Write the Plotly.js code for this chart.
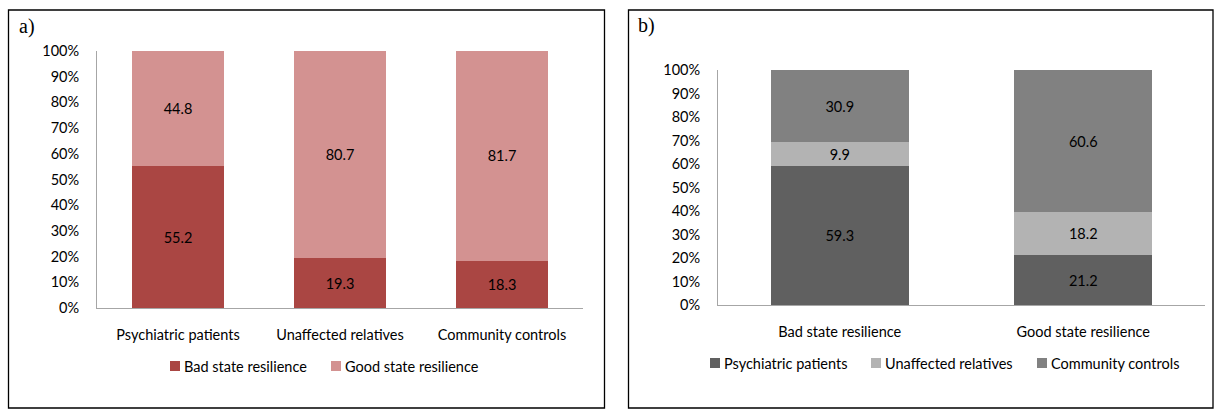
<!DOCTYPE html>
<html>
<head>
<meta charset="utf-8">
<script src="https://cdn.plot.ly/plotly-3.0.1.min.js"></script>
<style>html,body{margin:0;padding:0;background:#fff}#chart{width:1220px;height:410px}</style>
</head>
<body>
<div id="chart"></div>
<script>
// Panel a data
const groupsA = ["Psychiatric patients", "Unaffected relatives", "Community controls"];
const seriesA = ["Bad state resilience", "Good state resilience"];
const badA = [55.2, 19.3, 18.3];
const goodA = [44.8, 80.7, 81.7];
// Panel b data
const groupsB = ["Bad state resilience", "Good state resilience"];
const seriesB = ["Psychiatric patients", "Unaffected relatives", "Community controls"];
const psychB = [59.3, 21.2];
const relB = [9.9, 18.2];
const commB = [30.9, 60.6];

const colorsA = ["#AA4643", "#D39291"];
const colorsB = ["#606060", "#B3B3B3", "#818181"];

const W = 1220, H = 410;
const px = x => x / W;
const py = y => (H - y) / H;

const FONT = "Lato, 'Open Sans', sans-serif";
const txtFont = {family: FONT, size: 14.5, color: "#000"};

function barTrace(x, y, name, color, xa, ya) {
  return {
    type: "bar", x: x, y: y, name: name,
    marker: {color: color, line: {width: 0}},
    text: y.map(v => v.toFixed(1)), texttemplate: "%{text}",
    textposition: "inside", insidetextanchor: "middle",
    textfont: txtFont, constraintext: "none",
    xaxis: xa, yaxis: ya, showlegend: false, hoverinfo: "skip"
  };
}

const data = [
  barTrace(groupsA, badA, seriesA[0], colorsA[0], "x", "y"),
  barTrace(groupsA, goodA, seriesA[1], colorsA[1], "x", "y"),
  barTrace(groupsB, psychB, seriesB[0], colorsB[0], "x2", "y2"),
  barTrace(groupsB, relB, seriesB[1], colorsB[1], "x2", "y2"),
  barTrace(groupsB, commB, seriesB[2], colorsB[2], "x2", "y2")
];
data[2].width = data[3].width = data[4].width = 0.567;

const axisCommon = {
  showgrid: false, zeroline: false, showline: true, linecolor: "#A6A6A6", linewidth: 1,
  ticks: "", tickfont: txtFont, fixedrange: true
};

// Manual legends (square swatch + label), positioned in pixels
const shapes = [
  {type: "rect", xref: "paper", yref: "paper", x0: px(8.5), x1: px(604.5), y0: py(408), y1: py(10), line: {color: "#000", width: 1.3}},
  {type: "rect", xref: "paper", yref: "paper", x0: px(628.5), x1: px(1213), y0: py(408), y1: py(10), line: {color: "#000", width: 1.3}}
];
const annotations = [
  {text: "a)", xref: "paper", yref: "paper", x: px(17), y: py(27), xanchor: "left", yanchor: "middle", showarrow: false,
    font: {family: "'Liberation Serif', 'Times New Roman', serif", size: 20, color: "#000"}},
  {text: "b)", xref: "paper", yref: "paper", x: px(636), y: py(25), xanchor: "left", yanchor: "middle", showarrow: false,
    font: {family: "'Liberation Serif', 'Times New Roman', serif", size: 20, color: "#000"}}
];
function addLegend(names, colors, xs, yc) {
  names.forEach((n, i) => {
    const x = xs[i];
    shapes.push({type: "rect", xref: "paper", yref: "paper", x0: px(x), x1: px(x + 10), y0: py(yc + 5), y1: py(yc - 5),
      fillcolor: colors[i], line: {width: 0}});
    annotations.push({text: n, xref: "paper", yref: "paper", x: px(x + 12), y: py(yc), xanchor: "left", yanchor: "middle",
      showarrow: false, font: txtFont});
  });
}
addLegend(seriesA, colorsA, [170, 331], 366);
addLegend(seriesB, colorsB, [710, 871, 1037], 363);

const layout = {
  width: W, height: H,
  margin: {l: 0, r: 0, t: 0, b: 0},
  paper_bgcolor: "#fff", plot_bgcolor: "rgba(0,0,0,0)",
  barmode: "stack",
  bargap: 0.426,
  showlegend: false,
  xaxis: Object.assign({}, axisCommon, {domain: [px(97), px(583)], anchor: "y", type: "category", ticklabelstandoff: 14}),
  yaxis: Object.assign({}, axisCommon, {domain: [py(308), py(51)], anchor: "x", range: [0, 100], dtick: 10, tick0: 0, ticksuffix: "%", ticklabelstandoff: 14}),
  xaxis2: Object.assign({}, axisCommon, {domain: [px(718), px(1205)], anchor: "y2", type: "category", ticklabelstandoff: 14}),
  yaxis2: Object.assign({}, axisCommon, {domain: [py(305), py(70)], anchor: "x2", range: [0, 100], dtick: 10, tick0: 0, ticksuffix: "%", ticklabelstandoff: 14}),
  shapes: shapes,
  annotations: annotations
};

Plotly.newPlot("chart", data, layout, {displayModeBar: false, staticPlot: true});
</script>
</body>
</html>
